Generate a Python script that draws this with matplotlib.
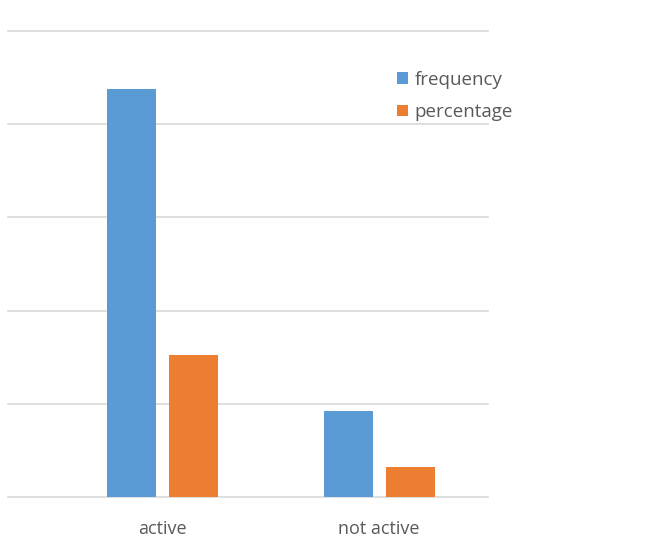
import matplotlib
matplotlib.use("Agg")
import matplotlib.pyplot as plt
import numpy as np

categories = ["active", "not active"]
frequency = [219, 46]
percentage = [76, 16]
series_names = ["frequency", "percentage"]
colors = ["#5B9BD5", "#ED7D31"]

plt.rcParams['font.family'] = ['Open Sans', 'DejaVu Sans']

fig = plt.figure(figsize=(6.58, 5.42), dpi=100)
W, H = 658, 542
ax = fig.add_axes([8 / W, (H - 497) / H, (488 - 8) / W, (497 - 31) / H])

x = np.arange(len(categories))
bw = 0.226
ax.bar(x - 0.1406, frequency, width=bw, color=colors[0], label=series_names[0], zorder=3)
ax.bar(x + 0.145, percentage, width=bw, color=colors[1], label=series_names[1], zorder=3)

ax.set_xlim(-0.7097, 1.502)
ax.set_ylim(0, 250)
ax.set_yticks(np.arange(0, 251, 50))
ax.yaxis.grid(True, color="#d9d9d9", linewidth=1.2, zorder=0)
for gl in ax.get_ygridlines():
    gl.set_clip_on(False)
ax.tick_params(axis='y', left=False, labelleft=False)
ax.tick_params(axis='x', bottom=False, labelsize=13, labelcolor="#595959", pad=13)
ax.set_xticks(x)
ax.set_xticklabels(categories)
for s in ax.spines.values():
    s.set_visible(False)

leg = fig.legend(loc="upper left", bbox_to_anchor=(397 / W, 1 - 71 / H), frameon=False,
                 fontsize=13.5, handlelength=0.6, handleheight=0.6, handletextpad=0.35,
                 labelspacing=0.75, labelcolor="#595959", borderaxespad=0, borderpad=0)

fig.savefig("out.png", dpi=100)
